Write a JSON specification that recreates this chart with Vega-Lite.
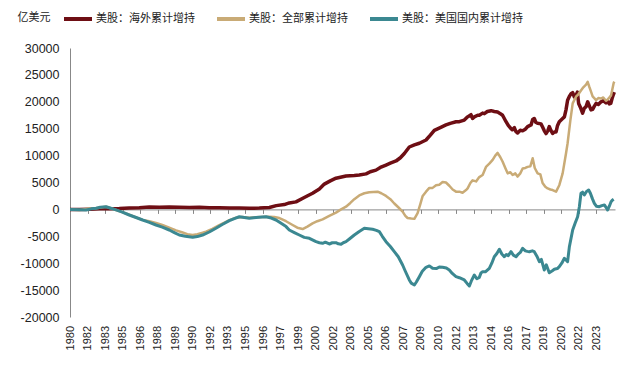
{
  "$schema": "https://vega.github.io/schema/vega-lite/v6.json",
  "width": 545,
  "height": 269,
  "autosize": {"type": "none"},
  "padding": {"left": 70, "top": 48, "right": 17, "bottom": 56},
  "background": "white",
  "config": {"view": {"stroke": null}, "font": "Liberation Sans"},
  "datasets": {
    "overseas": [{"t":1980.92,"v":0},{"t":1981.67,"v":0},{"t":1982.48,"v":50},{"t":1983.28,"v":100},{"t":1984.09,"v":100},{"t":1984.90,"v":150},{"t":1985.70,"v":250},{"t":1986.51,"v":300},{"t":1987.32,"v":450},{"t":1988.13,"v":400},{"t":1988.93,"v":450},{"t":1989.74,"v":400},{"t":1990.55,"v":350},{"t":1991.36,"v":400},{"t":1992.16,"v":300},{"t":1992.97,"v":300},{"t":1993.78,"v":250},{"t":1994.59,"v":250},{"t":1995.39,"v":200},{"t":1996.20,"v":250},{"t":1997.01,"v":350},{"t":1997.57,"v":700},{"t":1998.22,"v":900},{"t":1998.62,"v":1200},{"t":1999.16,"v":1400},{"t":1999.83,"v":2200},{"t":2000.50,"v":3000},{"t":2001.05,"v":3800},{"t":2001.45,"v":4700},{"t":2001.93,"v":5300},{"t":2002.39,"v":5800},{"t":2003.20,"v":6200},{"t":2003.87,"v":6300},{"t":2004.27,"v":6400},{"t":2004.82,"v":6600},{"t":2005.16,"v":7000},{"t":2005.62,"v":7300},{"t":2005.97,"v":7800},{"t":2006.43,"v":8250},{"t":2006.78,"v":8600},{"t":2007.24,"v":9000},{"t":2007.59,"v":9600},{"t":2007.91,"v":10400},{"t":2008.31,"v":11600},{"t":2008.72,"v":12000},{"t":2009.12,"v":12300},{"t":2009.66,"v":12900},{"t":2010.01,"v":13800},{"t":2010.33,"v":14700},{"t":2010.81,"v":15200},{"t":2011.27,"v":15700},{"t":2011.62,"v":16000},{"t":2012.08,"v":16300},{"t":2012.35,"v":16300},{"t":2012.75,"v":16600},{"t":2013.02,"v":17200},{"t":2013.29,"v":17600},{"t":2013.42,"v":16900},{"t":2013.56,"v":17200},{"t":2013.83,"v":17500},{"t":2013.96,"v":17500},{"t":2014.23,"v":17900},{"t":2014.37,"v":17800},{"t":2014.61,"v":18200},{"t":2014.91,"v":18350},{"t":2015.17,"v":18200},{"t":2015.44,"v":18100},{"t":2015.66,"v":17800},{"t":2015.84,"v":17500},{"t":2016.12,"v":16300},{"t":2016.30,"v":15600},{"t":2016.52,"v":15000},{"t":2016.63,"v":14800},{"t":2016.79,"v":15200},{"t":2016.91,"v":14500},{"t":2017.05,"v":14200},{"t":2017.27,"v":14700},{"t":2017.46,"v":14600},{"t":2017.68,"v":14900},{"t":2017.86,"v":15400},{"t":2018.14,"v":15700},{"t":2018.27,"v":16700},{"t":2018.40,"v":16900},{"t":2018.52,"v":16200},{"t":2018.67,"v":16000},{"t":2018.94,"v":15900},{"t":2019.07,"v":15300},{"t":2019.21,"v":14600},{"t":2019.35,"v":14100},{"t":2019.49,"v":14600},{"t":2019.61,"v":15400},{"t":2019.74,"v":14700},{"t":2019.88,"v":14100},{"t":2020.02,"v":14400},{"t":2020.16,"v":14400},{"t":2020.28,"v":15600},{"t":2020.42,"v":16300},{"t":2020.69,"v":16900},{"t":2020.83,"v":17200},{"t":2020.96,"v":18500},{"t":2021.09,"v":20300},{"t":2021.23,"v":21000},{"t":2021.37,"v":21500},{"t":2021.50,"v":21700},{"t":2021.63,"v":20900},{"t":2021.77,"v":21200},{"t":2021.88,"v":21800},{"t":2021.98,"v":19700},{"t":2022.12,"v":19000},{"t":2022.30,"v":17900},{"t":2022.44,"v":18800},{"t":2022.58,"v":19100},{"t":2022.71,"v":20000},{"t":2022.84,"v":19300},{"t":2022.98,"v":18500},{"t":2023.11,"v":18600},{"t":2023.25,"v":19200},{"t":2023.39,"v":19700},{"t":2023.57,"v":19500},{"t":2023.79,"v":20000},{"t":2023.97,"v":20200},{"t":2024.19,"v":19800},{"t":2024.34,"v":20100},{"t":2024.46,"v":19600},{"t":2024.58,"v":19700},{"t":2024.68,"v":20600},{"t":2024.78,"v":21300},{"t":2024.86,"v":21800}],
    "total": [{"t":1980.92,"v":0},{"t":1981.67,"v":-100},{"t":1982.48,"v":150},{"t":1983.02,"v":200},{"t":1983.28,"v":300},{"t":1983.82,"v":500},{"t":1984.09,"v":300},{"t":1984.63,"v":-100},{"t":1985.14,"v":-500},{"t":1985.70,"v":-1000},{"t":1986.25,"v":-1500},{"t":1986.78,"v":-1950},{"t":1987.32,"v":-2200},{"t":1987.86,"v":-2500},{"t":1988.37,"v":-2900},{"t":1988.93,"v":-3400},{"t":1989.48,"v":-3900},{"t":1990.01,"v":-4300},{"t":1990.39,"v":-4600},{"t":1990.82,"v":-4750},{"t":1991.20,"v":-4600},{"t":1991.62,"v":-4350},{"t":1991.90,"v":-4150},{"t":1992.41,"v":-3600},{"t":1992.97,"v":-2900},{"t":1993.51,"v":-2300},{"t":1993.78,"v":-2000},{"t":1994.32,"v":-1550},{"t":1994.83,"v":-1400},{"t":1995.39,"v":-1550},{"t":1995.93,"v":-1450},{"t":1996.44,"v":-1400},{"t":1997.01,"v":-1360},{"t":1997.41,"v":-1400},{"t":1997.82,"v":-1600},{"t":1998.36,"v":-2200},{"t":1998.89,"v":-2900},{"t":1999.27,"v":-3400},{"t":1999.70,"v":-3650},{"t":2000.08,"v":-3200},{"t":2000.50,"v":-2600},{"t":2000.88,"v":-2200},{"t":2001.31,"v":-1850},{"t":2001.85,"v":-1200},{"t":2002.39,"v":-600},{"t":2002.80,"v":0},{"t":2003.20,"v":500},{"t":2003.55,"v":1200},{"t":2003.87,"v":1900},{"t":2004.27,"v":2600},{"t":2004.68,"v":3000},{"t":2005.08,"v":3180},{"t":2005.40,"v":3250},{"t":2005.75,"v":3300},{"t":2006.05,"v":3000},{"t":2006.43,"v":2500},{"t":2006.78,"v":1900},{"t":2007.10,"v":1100},{"t":2007.42,"v":400},{"t":2007.77,"v":-400},{"t":2007.99,"v":-1200},{"t":2008.17,"v":-1600},{"t":2008.47,"v":-1700},{"t":2008.72,"v":-1750},{"t":2008.98,"v":-700},{"t":2009.20,"v":1000},{"t":2009.39,"v":2500},{"t":2009.66,"v":3300},{"t":2009.93,"v":4000},{"t":2010.19,"v":4000},{"t":2010.47,"v":4500},{"t":2010.73,"v":4600},{"t":2011.00,"v":5100},{"t":2011.27,"v":5000},{"t":2011.54,"v":4400},{"t":2011.81,"v":3700},{"t":2012.08,"v":3300},{"t":2012.35,"v":3300},{"t":2012.61,"v":3100},{"t":2012.89,"v":3600},{"t":2013.02,"v":3900},{"t":2013.24,"v":4900},{"t":2013.42,"v":5400},{"t":2013.70,"v":5200},{"t":2013.96,"v":6000},{"t":2014.23,"v":6400},{"t":2014.50,"v":7900},{"t":2014.77,"v":8500},{"t":2015.04,"v":9200},{"t":2015.25,"v":10000},{"t":2015.44,"v":10500},{"t":2015.66,"v":9700},{"t":2015.84,"v":8900},{"t":2016.06,"v":7700},{"t":2016.25,"v":6700},{"t":2016.47,"v":6900},{"t":2016.65,"v":6400},{"t":2016.87,"v":6700},{"t":2017.05,"v":6100},{"t":2017.27,"v":6700},{"t":2017.46,"v":7600},{"t":2017.68,"v":7700},{"t":2017.86,"v":7900},{"t":2018.08,"v":8000},{"t":2018.27,"v":9500},{"t":2018.44,"v":7700},{"t":2018.67,"v":6700},{"t":2018.89,"v":6500},{"t":2019.07,"v":4900},{"t":2019.29,"v":4200},{"t":2019.48,"v":3900},{"t":2019.70,"v":3700},{"t":2019.88,"v":3600},{"t":2020.16,"v":3300},{"t":2020.42,"v":4500},{"t":2020.69,"v":6700},{"t":2020.96,"v":10400},{"t":2021.09,"v":12300},{"t":2021.31,"v":16500},{"t":2021.50,"v":19700},{"t":2021.77,"v":20950},{"t":2021.96,"v":21400},{"t":2022.17,"v":22100},{"t":2022.36,"v":22700},{"t":2022.58,"v":23200},{"t":2022.71,"v":23700},{"t":2022.84,"v":22800},{"t":2022.98,"v":21900},{"t":2023.11,"v":21000},{"t":2023.39,"v":20300},{"t":2023.57,"v":20700},{"t":2023.79,"v":20600},{"t":2023.97,"v":20800},{"t":2024.19,"v":20200},{"t":2024.32,"v":20400},{"t":2024.46,"v":20800},{"t":2024.60,"v":21200},{"t":2024.70,"v":22300},{"t":2024.81,"v":23500},{"t":2024.86,"v":23750}],
    "domestic": [{"t":1980.92,"v":0},{"t":1981.67,"v":-50},{"t":1982.21,"v":-100},{"t":1982.64,"v":100},{"t":1983.02,"v":200},{"t":1983.36,"v":400},{"t":1983.82,"v":500},{"t":1984.09,"v":300},{"t":1984.63,"v":-100},{"t":1985.14,"v":-500},{"t":1985.70,"v":-1040},{"t":1986.25,"v":-1500},{"t":1986.78,"v":-1970},{"t":1987.32,"v":-2400},{"t":1987.86,"v":-2900},{"t":1988.37,"v":-3300},{"t":1988.93,"v":-3830},{"t":1989.34,"v":-4300},{"t":1989.74,"v":-4760},{"t":1990.23,"v":-5000},{"t":1990.82,"v":-5190},{"t":1991.20,"v":-5050},{"t":1991.62,"v":-4760},{"t":1992.16,"v":-4200},{"t":1992.70,"v":-3510},{"t":1993.21,"v":-2800},{"t":1993.78,"v":-2100},{"t":1994.18,"v":-1700},{"t":1994.59,"v":-1360},{"t":1994.99,"v":-1500},{"t":1995.39,"v":-1650},{"t":1995.93,"v":-1500},{"t":1996.44,"v":-1400},{"t":1996.74,"v":-1360},{"t":1997.17,"v":-1600},{"t":1997.55,"v":-1970},{"t":1997.90,"v":-2500},{"t":1998.36,"v":-3200},{"t":1998.62,"v":-3830},{"t":1999.03,"v":-4300},{"t":1999.43,"v":-4760},{"t":1999.83,"v":-5200},{"t":2000.24,"v":-5370},{"t":2000.78,"v":-6000},{"t":2001.05,"v":-6200},{"t":2001.31,"v":-6300},{"t":2001.53,"v":-6100},{"t":2001.85,"v":-6430},{"t":2002.09,"v":-6200},{"t":2002.39,"v":-6190},{"t":2002.58,"v":-6400},{"t":2002.80,"v":-6490},{"t":2002.98,"v":-6200},{"t":2003.20,"v":-6000},{"t":2003.47,"v":-5500},{"t":2003.87,"v":-4760},{"t":2004.27,"v":-4100},{"t":2004.68,"v":-3510},{"t":2005.00,"v":-3600},{"t":2005.35,"v":-3700},{"t":2005.65,"v":-3900},{"t":2005.89,"v":-4140},{"t":2006.13,"v":-5000},{"t":2006.43,"v":-6000},{"t":2006.78,"v":-6900},{"t":2007.10,"v":-7860},{"t":2007.42,"v":-8800},{"t":2007.77,"v":-10330},{"t":2007.99,"v":-11500},{"t":2008.31,"v":-13120},{"t":2008.47,"v":-13700},{"t":2008.72,"v":-14050},{"t":2008.88,"v":-13500},{"t":2009.12,"v":-12500},{"t":2009.36,"v":-11500},{"t":2009.66,"v":-10760},{"t":2009.93,"v":-10500},{"t":2010.19,"v":-10950},{"t":2010.49,"v":-11000},{"t":2010.73,"v":-10700},{"t":2011.00,"v":-10760},{"t":2011.30,"v":-10900},{"t":2011.54,"v":-11260},{"t":2011.78,"v":-11900},{"t":2012.08,"v":-12500},{"t":2012.35,"v":-12700},{"t":2012.75,"v":-13120},{"t":2012.99,"v":-13800},{"t":2013.16,"v":-14240},{"t":2013.32,"v":-13300},{"t":2013.56,"v":-12190},{"t":2013.76,"v":-12900},{"t":2013.96,"v":-12630},{"t":2014.10,"v":-11800},{"t":2014.23,"v":-11580},{"t":2014.45,"v":-11600},{"t":2014.77,"v":-10950},{"t":2014.97,"v":-10000},{"t":2015.17,"v":-8790},{"t":2015.38,"v":-8200},{"t":2015.58,"v":-7420},{"t":2015.78,"v":-8300},{"t":2015.98,"v":-8790},{"t":2016.14,"v":-8400},{"t":2016.30,"v":-8600},{"t":2016.52,"v":-7860},{"t":2016.71,"v":-8500},{"t":2016.93,"v":-8790},{"t":2017.11,"v":-8300},{"t":2017.27,"v":-8000},{"t":2017.46,"v":-7230},{"t":2017.68,"v":-7700},{"t":2017.84,"v":-7800},{"t":2018.00,"v":-7860},{"t":2018.24,"v":-7700},{"t":2018.40,"v":-7860},{"t":2018.61,"v":-8700},{"t":2018.81,"v":-9720},{"t":2018.97,"v":-9300},{"t":2019.21,"v":-11260},{"t":2019.37,"v":-10300},{"t":2019.61,"v":-11770},{"t":2019.86,"v":-11400},{"t":2020.02,"v":-11130},{"t":2020.26,"v":-11000},{"t":2020.42,"v":-10650},{"t":2020.62,"v":-10000},{"t":2020.83,"v":-9090},{"t":2021.09,"v":-9720},{"t":2021.23,"v":-7000},{"t":2021.50,"v":-3830},{"t":2021.71,"v":-2500},{"t":2021.90,"v":-1360},{"t":2022.04,"v":500},{"t":2022.17,"v":3000},{"t":2022.30,"v":3200},{"t":2022.44,"v":2680},{"t":2022.60,"v":3300},{"t":2022.79,"v":3610},{"t":2022.93,"v":3000},{"t":2023.09,"v":2000},{"t":2023.25,"v":1130},{"t":2023.41,"v":600},{"t":2023.65,"v":500},{"t":2023.85,"v":700},{"t":2024.06,"v":820},{"t":2024.22,"v":300},{"t":2024.32,"v":-110},{"t":2024.46,"v":600},{"t":2024.60,"v":1430},{"t":2024.70,"v":1700},{"t":2024.81,"v":1880}]
  },
  "encoding": {
    "x": {
      "field": "t",
      "type": "quantitative",
      "scale": {"domain": [1980.917, 2024.917], "nice": false, "zero": false},
      "axis": {
        "values": [1980.917, 1982.333, 1983.75, 1985.167, 1986.583, 1988.0, 1989.417, 1990.833, 1992.25, 1993.667, 1995.083, 1996.5, 1997.917, 1999.333, 2000.75, 2002.167, 2003.583, 2005.0, 2006.417, 2007.833, 2009.25, 2010.667, 2012.083, 2013.5, 2014.917, 2016.333, 2017.75, 2019.167, 2020.583, 2022.0, 2023.417],
        "labelExpr": "'' + floor(datum.value + 0.01)",
        "labelAngle": -90,
        "labelAlign": "right",
        "labelBaseline": "middle",
        "labelFont": "Liberation Sans",
        "labelFontSize": 11,
        "labelColor": "#222222",
        "labelPadding": 112,
        "labelOverlap": false,
        "labelFlush": false,
        "offset": -107.6,
        "tickSize": 4,
        "tickColor": "#888888",
        "domainColor": "#888888",
        "grid": false,
        "title": null
      }
    },
    "y": {
      "field": "v",
      "type": "quantitative",
      "scale": {"domain": [-20000, 30000], "nice": false},
      "axis": {
        "values": [-20000, -15000, -10000, -5000, 0, 5000, 10000, 15000, 20000, 25000, 30000],
        "labelExpr": "'' + datum.value",
        "labelFont": "Liberation Sans",
        "labelFontSize": 12.5,
        "labelColor": "#222222",
        "labelPadding": 11,
        "ticks": false,
        "grid": false,
        "domainColor": "#888888",
        "title": "亿美元",
        "titleAngle": 0,
        "titleX": -53,
        "titleY": -31,
        "titleAlign": "left",
        "titleBaseline": "middle",
        "titleFont": "Noto Sans CJK SC",
        "titleFontSize": 11,
        "titleFontWeight": "normal",
        "titleColor": "#222222"
      }
    },
    "color": {
      "type": "nominal",
      "scale": {
        "domain": ["美股：海外累计增持", "美股：全部累计增持", "美股：美国国内累计增持"],
        "range": ["#6E0E14", "#C9AB76", "#3B8891"]
      },
      "legend": {
        "orient": "none",
        "legendX": -8,
        "legendY": -45,
        "direction": "horizontal",
        "title": null,
        "symbolType": "stroke",
        "symbolSize": 784,
        "symbolStrokeWidth": 4,
        "labelFont": "Noto Sans CJK SC",
        "labelFontSize": 11,
        "labelColor": "#222222",
        "labelOffset": 2,
        "labelLimit": 300,
        "columnPadding": 14,
        "padding": 0
      }
    }
  },
  "layer": [
    {
      "data": {"name": "overseas"},
      "mark": {"type": "line", "strokeWidth": 3.5, "strokeJoin": "round"},
      "encoding": {"color": {"datum": "美股：海外累计增持"}}
    },
    {
      "data": {"name": "total"},
      "mark": {"type": "line", "strokeWidth": 2.5, "strokeJoin": "round"},
      "encoding": {"color": {"datum": "美股：全部累计增持"}}
    },
    {
      "data": {"name": "domestic"},
      "mark": {"type": "line", "strokeWidth": 3, "strokeJoin": "round"},
      "encoding": {"color": {"datum": "美股：美国国内累计增持"}}
    }
  ]
}
